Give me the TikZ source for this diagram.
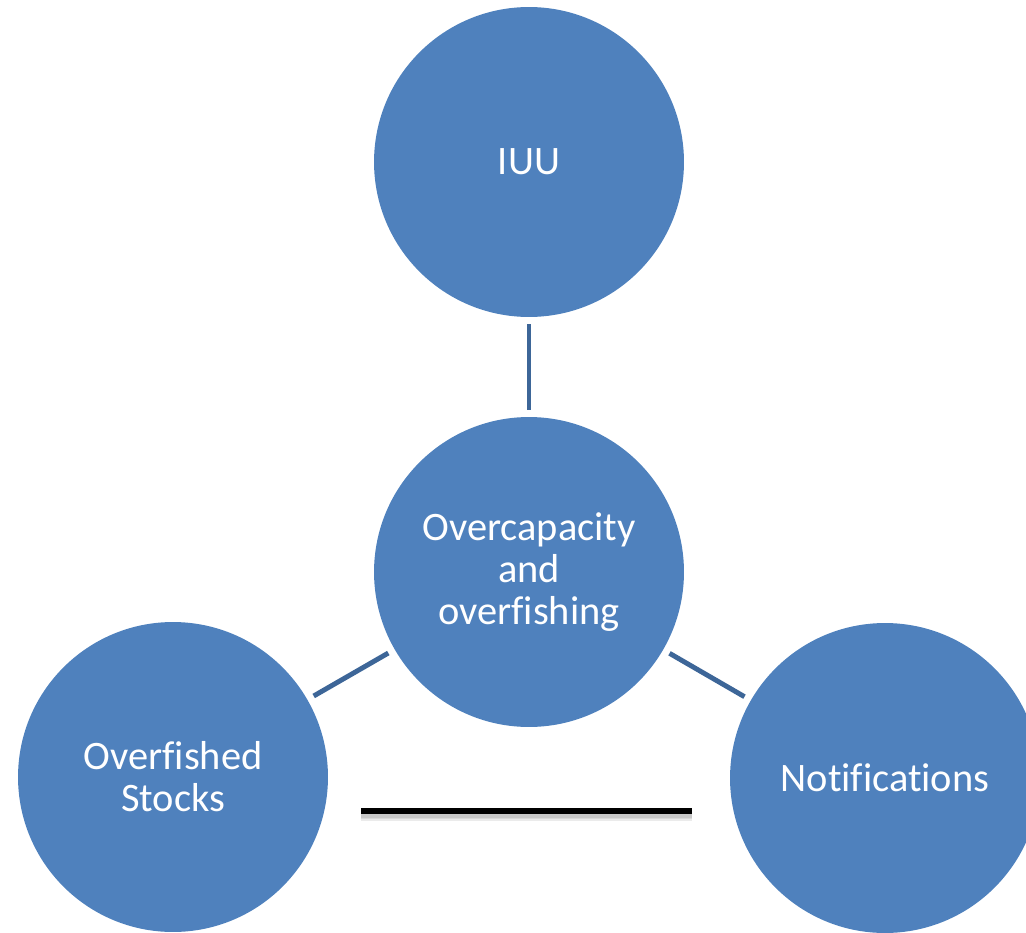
\documentclass[tikz,border=0pt]{standalone}
\usepackage{fontspec}
\setmainfont[Ligatures=NoCommon]{Carlito}
\definecolor{bubble}{HTML}{4F81BD}
\definecolor{link}{HTML}{3D6698}
\tikzset{
  bubble/.style={circle,fill=bubble,text=white,minimum size=6.2cm,inner sep=0pt,
    align=center,font=\fontsize{23}{24}\selectfont},
  link/.style={draw=link,line width=2.8pt,shorten <=4pt,shorten >=4pt}
}
\begin{document}
\begin{tikzpicture}[x=0.02cm,y=-0.02cm]

    \useasboundingbox (0,0) rectangle (1026,932);

    \node[bubble] (core) at (529,572) {Overcapacity\\and\\overfishing};
    \node[bubble] (iuu) at (529,162) {IUU};
    \node[bubble] (stocks) at (173,777) {Overfished\\Stocks};
    \node[bubble] (notif) at (885,778) {Notifications};

    \draw[link] (iuu) -- (core);
    \draw[link] (core) -- (stocks);
    \draw[link] (core) -- (notif);

    % bar with a soft shadow
    \coordinate (barL) at (361,811);
    \coordinate (barR) at (692,811);
    \foreach \w in {6,4.5,3}
      \draw[black,line width=\w pt,opacity=0.08] ([yshift=-2.5pt]barL) -- ([yshift=-2.5pt]barR);
    \draw[black,line width=3.4pt] (barL) -- (barR);

\end{tikzpicture}
\end{document}
